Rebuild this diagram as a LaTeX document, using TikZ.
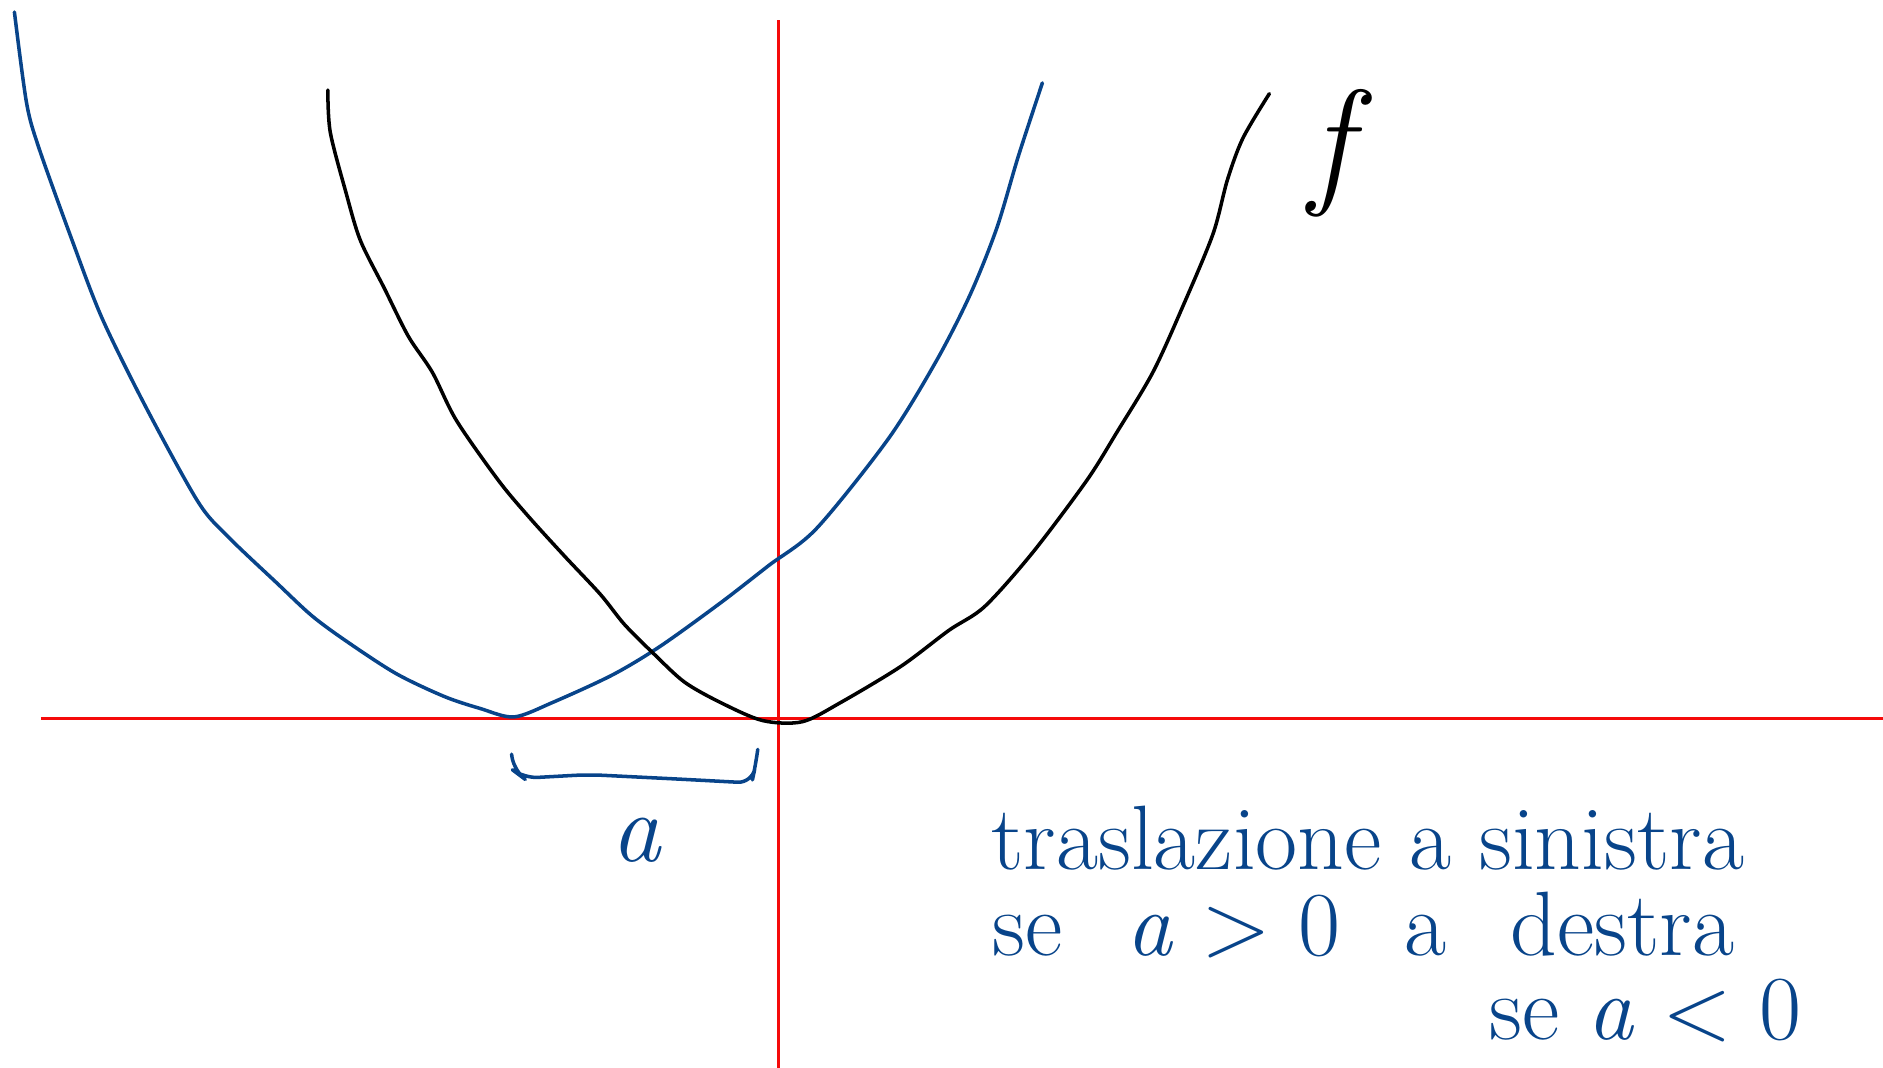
\documentclass[tikz,border=0pt]{standalone}
\usepackage{amsmath}
\usepackage{fontspec}
\usepackage{tikz}

\definecolor{inkblue}{RGB}{8,68,138}
\definecolor{axisred}{RGB}{245,10,10}

\tikzset{
  ink/.style={line width=1pt,line cap=round,line join=round},
  handtext/.style={inkblue,anchor=base west,inner sep=0pt,font=\fontsize{26}{31}\selectfont}
}

\begin{document}
\begin{tikzpicture}[x=0.012cm,y=-0.012cm]
			\useasboundingbox (0,0) rectangle (1568,889);
			\clip (0,0) rectangle (1568,889);
			% assi
			\draw[axisred,line width=0.9pt] (34,598) -- (1568,598);
			\draw[axisred,line width=0.9pt] (648,17) -- (648,889);
			% f(x+a), traslata
			\draw[ink,inkblue] plot[smooth] coordinates
				{(12,10)(22,85)(32,122)(60,200)(85,265)(122,340)(165,418)(190,447)(230,485)(260,513)(290,535)(330,561)(370,580)(400,590)(428,597)(460,585)(510,562)(550,538)(600,502)(640,471)(680,440)(740,365)(780,300)(808,245)(830,190)(848,130)(868,69)};
			% f
			\draw[ink,black] plot[smooth] coordinates
				{(273,75)(275,110)(288,160)(300,200)(320,240)(340,280)(360,310)(380,350)(415,400)(440,430)(470,463)(500,495)(520,520)(545,545)(570,568)(600,585)(635,600)(668,601)(700,585)(750,555)(790,525)(820,505)(860,460)(905,400)(930,360)(960,310)(985,255)(1010,195)(1022,150)(1035,115)(1057,78)};
			\node[black,font=\fontsize{40}{44}\selectfont\itshape] (flabel) at (1108,128) {f};
			% parentesi e spostamento
			\draw[ink,inkblue,rounded corners=4pt] (426,628) -- (428,642) -- (436,648) -- (490,645) -- (570,649) -- (626,652) -- (629,638) -- (631,624);
			\node[inkblue,font=\fontsize{28}{32}\selectfont\itshape] (shift) at (530,700) {a};
			% testo
			\node[handtext] (line1) at (825,724) {traslazione a sinistra};
			\node[handtext] (line2) at (826,796) {se\hspace{.7em}\textit{a} > 0\hspace{.7em}a\hspace{.7em}destra};
			\node[handtext] (line3) at (1240,866) {se \textit{a} < 0};
		\end{tikzpicture}
\end{document}
